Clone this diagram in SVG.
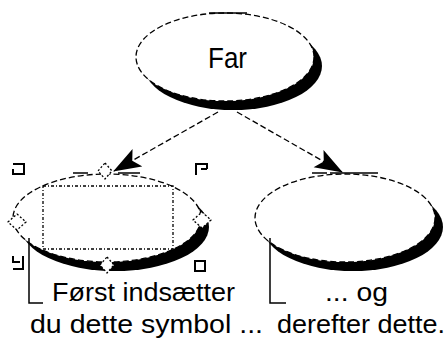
<svg xmlns="http://www.w3.org/2000/svg" width="446" height="339" viewBox="0 0 446 339">
<style>
.shadow{fill:#000;stroke:none}
.node{fill:#fff;stroke:#000;stroke-width:1.3;stroke-dasharray:6 3}
.solid{stroke:#000;stroke-width:1.5;fill:none}
.conn{stroke:#000;stroke-width:1.3;fill:none;stroke-dasharray:6 3}
.lbl{font-family:"Liberation Sans",Arial,sans-serif;font-size:25px;fill:#000}
.handle{fill:none;stroke:#000;stroke-width:2}
.diam{fill:#fff;stroke:#000;stroke-width:1.3;stroke-dasharray:2 2}
.sel{fill:none;stroke:#000;stroke-width:1.3;stroke-dasharray:3 2 1 2}
.bracket{fill:none;stroke:#000;stroke-width:1.5}
</style>
<defs>
<marker id="arrow" viewBox="0 0 28 22" refX="27" refY="11" markerWidth="28" markerHeight="22" markerUnits="userSpaceOnUse" orient="auto">
<path d="M0,1 L28,11 L0,21 L6,11 z" fill="#000"/>
</marker>
</defs>

<g id="connectors">
<line class="conn" x1="218" y1="112" x2="114" y2="171" marker-end="url(#arrow)"/>
<line class="conn" x1="237" y1="112" x2="342" y2="172" marker-end="url(#arrow)"/>
</g>

<g id="far">
<ellipse class="shadow" cx="233" cy="66" rx="89" ry="44"/>
<ellipse class="node" cx="225" cy="57" rx="89" ry="44"/>
<line class="solid" x1="209" y1="13" x2="247" y2="13"/>
<text class="lbl" x="208" y="68" style="font-size:29px" textLength="39" lengthAdjust="spacingAndGlyphs">Far</text>
</g>

<g id="node-left">
<ellipse class="shadow" cx="115" cy="227" rx="94" ry="44"/>
<ellipse class="node" cx="107" cy="218" rx="94" ry="44"/>
<line class="solid" x1="73" y1="173" x2="88" y2="173"/>
<line class="solid" x1="118" y1="173" x2="140" y2="173"/>
<rect class="sel" x="43" y="186" width="130" height="63"/>
<polygon class="diam" points="105,163 112,171 105,179 98,171"/>
<polygon class="diam" points="17,214 26,222 17,230 8,222"/>
<polygon class="diam" points="202,212 211,220 202,228 193,220"/>
<polygon class="diam" points="107,257 114,265 107,273 100,265"/>
<path class="handle" d="M13,164H24V174H13V169"/>
<path class="handle" d="M196,175V164H207V169M201,169H207"/>
<path class="handle" d="M13,256V262H20M23,256V269H13"/>
<rect class="handle" x="195" y="261" width="10" height="10"/>
</g>

<g id="node-right">
<ellipse class="shadow" cx="353" cy="227" rx="90" ry="44"/>
<ellipse class="node" cx="345" cy="218" rx="90" ry="44"/>
<line class="solid" x1="312" y1="173" x2="327" y2="173"/>
<line class="solid" x1="330" y1="173" x2="378" y2="173"/>
</g>

<g id="label-left">
<polyline class="bracket" points="29,238 29,303 43,303"/>
<text class="lbl" x="52" y="301" textLength="183" lengthAdjust="spacingAndGlyphs">Først indsætter</text>
<text class="lbl" x="30" y="333" textLength="233" lengthAdjust="spacingAndGlyphs">du dette symbol ...</text>
</g>

<g id="label-right">
<polyline class="bracket" points="270,238 270,303 286,303"/>
<text class="lbl" x="325" y="301" textLength="63" lengthAdjust="spacingAndGlyphs">... og</text>
<text class="lbl" x="277" y="333" textLength="168" lengthAdjust="spacingAndGlyphs">derefter dette.</text>
</g>
</svg>
